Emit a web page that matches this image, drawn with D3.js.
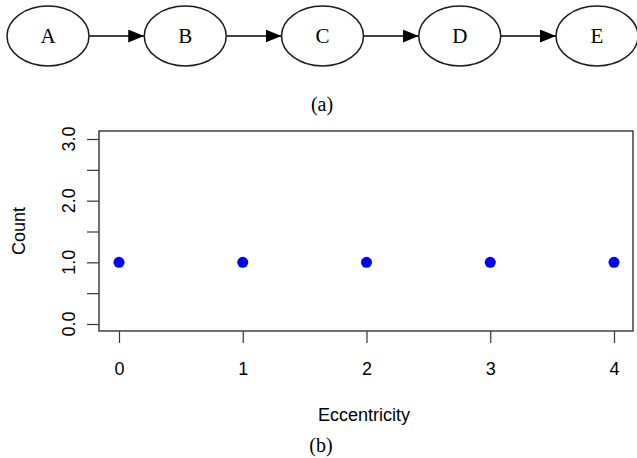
<!DOCTYPE html>
<html>
<head>
<meta charset="utf-8">
<script src="https://cdn.jsdelivr.net/npm/d3@7"></script>
<style>
  html, body { margin: 0; padding: 0; background: #fff; }
  svg { display: block; }
</style>
</head>
<body>
<svg id="chart" width="637" height="458"></svg>
<script>
// Chain graph nodes and the eccentricity distribution derived from it
const nodes = ["A", "B", "C", "D", "E"];
const edges = [["A", "B"], ["B", "C"], ["C", "D"], ["D", "E"]];
const eccentricity = [0, 1, 2, 3, 4];
const counts = [1, 1, 1, 1, 1];
const xTicks = [0, 1, 2, 3, 4];
const yTicks = [0, 0.5, 1, 1.5, 2, 2.5, 3];
const yLabelled = [0, 1, 2, 3];

const svg = d3.select("#chart");
const serif = "'Liberation Serif', 'Times New Roman', serif";
const sans = "'Liberation Sans', Arial, Helvetica, sans-serif";

// ---- (a) graph drawing ----
const nodeX = d3.scalePoint().domain(nodes).range([48, 597]);
const nodeY = 36, rx = 41, ry = 30;

const defs = svg.append("defs");
defs.append("marker")
  .attr("id", "arrow")
  .attr("viewBox", "0 0 10 10")
  .attr("refX", 10).attr("refY", 5)
  .attr("markerWidth", 16).attr("markerHeight", 13)
  .attr("markerUnits", "userSpaceOnUse")
  .attr("orient", "auto")
  .attr("preserveAspectRatio", "none")
  .append("path").attr("d", "M0,0 L10,5 L0,10 Z").attr("fill", "#000");

svg.append("g").selectAll("line").data(edges).join("line")
  .attr("x1", d => nodeX(d[0]) + rx)
  .attr("x2", d => nodeX(d[1]) - rx)
  .attr("y1", nodeY).attr("y2", nodeY)
  .attr("stroke", "#000").attr("stroke-width", 1.3)
  .attr("marker-end", "url(#arrow)");

const ng = svg.append("g").selectAll("g").data(nodes).join("g")
  .attr("transform", d => `translate(${nodeX(d)},${nodeY})`);
ng.append("ellipse").attr("rx", rx).attr("ry", ry)
  .attr("fill", "#fff").attr("stroke", "#1a1a1a").attr("stroke-width", 1.5);
ng.append("text").text(d => d)
  .attr("text-anchor", "middle").attr("y", 7)
  .attr("font-family", serif).attr("font-size", 21).attr("fill", "#000");

svg.append("text").text("(a)")
  .attr("x", 322).attr("y", 111)
  .attr("text-anchor", "middle")
  .attr("font-family", serif).attr("font-size", 20);

// ---- (b) eccentricity plot ----
const box = { left: 99, right: 633, top: 131, bottom: 331 };
const x = d3.scaleLinear().domain([0, 4]).range([119, 614]);
const y = d3.scaleLinear().domain([0, 3]).range([324, 139]);

svg.append("rect")
  .attr("x", box.left).attr("y", box.top)
  .attr("width", box.right - box.left).attr("height", box.bottom - box.top)
  .attr("fill", "none").attr("stroke", "#222").attr("stroke-width", 1.3);

// x axis
const xAxis = svg.append("g")
  .attr("transform", `translate(0,${box.bottom})`)
  .call(d3.axisBottom(x).tickValues(xTicks).tickSize(12).tickPadding(19).tickFormat(d3.format("d")));
xAxis.select(".domain").remove();
xAxis.selectAll("line").attr("stroke", "#333").attr("stroke-width", 1.2);
xAxis.selectAll("text").attr("font-family", sans).attr("font-size", 18).attr("fill", "#000");

// y axis
const yAxis = svg.append("g")
  .attr("transform", `translate(${box.left},0)`)
  .call(d3.axisLeft(y).tickValues(yTicks).tickSize(12).tickFormat(() => ""));
yAxis.select(".domain").remove();
yAxis.selectAll("line").attr("stroke", "#333").attr("stroke-width", 1.2);

svg.append("g").selectAll("text").data(yLabelled).join("text")
  .attr("transform", d => `translate(${box.left - 24},${y(d)}) rotate(-90)`)
  .attr("text-anchor", "middle")
  .attr("font-family", sans).attr("font-size", 18)
  .text(d => d3.format(".1f")(d));

// points
svg.append("g").selectAll("circle").data(eccentricity).join("circle")
  .attr("cx", (d) => x(d))
  .attr("cy", (d, i) => y(counts[i]))
  .attr("r", 5.5)
  .attr("fill", "#0000ff");

// axis titles
svg.append("text").text("Eccentricity")
  .attr("x", 364).attr("y", 421)
  .attr("text-anchor", "middle")
  .attr("font-family", sans).attr("font-size", 18);

svg.append("text").text("Count")
  .attr("transform", `translate(25,${(box.top + box.bottom) / 2}) rotate(-90)`)
  .attr("text-anchor", "middle")
  .attr("font-family", sans).attr("font-size", 18);

svg.append("text").text("(b)")
  .attr("x", 321).attr("y", 452)
  .attr("text-anchor", "middle")
  .attr("font-family", serif).attr("font-size", 20);
</script>
</body>
</html>
